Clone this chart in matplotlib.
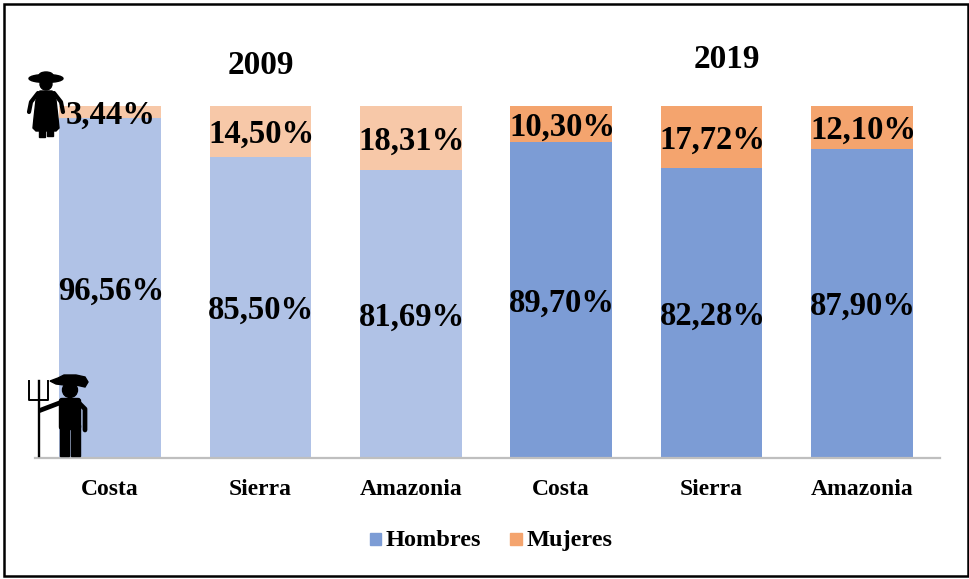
#!/usr/bin/env python

import matplotlib
matplotlib.use("Agg")
import matplotlib.pyplot as plt
from matplotlib.patches import Circle, Ellipse, FancyBboxPatch, Polygon, Rectangle

plt.rcParams["font.family"] = ["Liberation Serif"]
plt.rcParams["font.weight"] = "bold"

W, H = 970, 579

regiones = ["Costa", "Sierra", "Amazonia", "Costa", "Sierra", "Amazonia"]
hombres = [96.56, 85.50, 81.69, 89.70, 82.28, 87.90]
mujeres = [3.44, 14.50, 18.31, 10.30, 17.72, 12.10]
etiq_hombres = ["96,56%", "85,50%", "81,69%", "89,70%", "82,28%", "87,90%"]
etiq_mujeres = ["3,44%", "14,50%", "18,31%", "10,30%", "17,72%", "12,10%"]

col_hombres = ["#B0C2E6"] * 3 + ["#7C9CD5"] * 3
col_mujeres = ["#F7C8A8"] * 3 + ["#F4A46E"] * 3


def draw_woman(ov):
    ov.add_patch(Ellipse((46, 78.5), 34, 8, color="black", zorder=5))
    ov.add_patch(Ellipse((46, 75.5), 14, 7, color="black", zorder=5))
    ov.add_patch(Circle((46, 84), 6, color="black", zorder=5))
    ov.add_patch(Polygon([(40, 91), (52, 91), (56, 100), (58, 118), (59, 128),
                          (56, 131), (36, 131), (33, 128), (34, 118), (36, 100)],
                         color="black", zorder=5))
    ov.plot([38, 31, 29], [93, 102, 112], color="black", lw=3,
            solid_capstyle="round", zorder=5)
    ov.plot([54, 61, 63], [93, 102, 112], color="black", lw=3,
            solid_capstyle="round", zorder=5)
    ov.add_patch(Rectangle((39.5, 129), 5.5, 8, color="black", zorder=5))
    ov.add_patch(Rectangle((47.5, 129), 5.5, 7, color="black", zorder=5))


def draw_man(ov):
    # sombrero, cabeza y cuerpo
    ov.add_patch(Polygon([(50, 381), (58, 378), (64, 375), (76, 375), (85, 377),
                          (88, 382), (85, 387), (76, 385), (64, 385), (56, 384)],
                         color="black", zorder=5))
    ov.add_patch(Circle((70, 390), 7.5, color="black", zorder=5))
    ov.add_patch(FancyBboxPatch((62, 401), 16, 26, boxstyle="round,pad=2.5",
                                color="black", zorder=5))
    ov.add_patch(Rectangle((60, 425), 9.5, 31, color="black", zorder=5))
    ov.add_patch(Rectangle((71, 425), 9.5, 31, color="black", zorder=5))
    ov.plot([78, 85, 85], [402, 409, 430], color="black", lw=3.4,
            solid_capstyle="round", zorder=5)
    ov.plot([62, 41], [402, 410], color="black", lw=3.4, zorder=5)
    # horca
    ov.plot([39, 39], [381, 456], color="black", lw=1.7, zorder=5)
    ov.plot([29.5, 29.5, 48.5, 48.5], [381, 400, 400, 381], color="black", lw=1.4,
            zorder=5)


fig = plt.figure(figsize=(W / 100, H / 100), dpi=100, facecolor="white")

x0, x1, y_top, y_base = 35, 940, 106, 458
ax = fig.add_axes([x0 / W, 1 - y_base / H, (x1 - x0) / W, (y_base - y_top) / H])

pos = list(range(len(regiones)))
b1 = ax.bar(pos, hombres, width=0.675, color=col_hombres)
b2 = ax.bar(pos, mujeres, width=0.675, bottom=hombres, color=col_mujeres)
t1 = ax.bar_label(b1, labels=etiq_hombres, label_type="center", fontsize=23.5,
                  fontweight="bold", color="black")
t2 = ax.bar_label(b2, labels=etiq_mujeres, label_type="center", fontsize=23.5,
                  fontweight="bold", color="black")
for t in list(t1) + list(t2):
    t.xyann = (0.7, -2)

ax.set_xlim((x0 - 110) / 150.4, (x1 - 110) / 150.4)
ax.set_ylim(0, 100)
ax.set_yticks([])
ax.set_xticks(pos)
ax.set_xticklabels(regiones, fontsize=17, fontweight="bold")
ax.tick_params(axis="x", length=0, pad=15)
for s in ["top", "left", "right"]:
    ax.spines[s].set_visible(False)
ax.spines["bottom"].set_color("#BFBFBF")
ax.spines["bottom"].set_linewidth(1.6)

# capa en pixeles para iconos, marco, titulos y leyenda
ov = fig.add_axes([0, 0, 1, 1], facecolor="none")
ov.set_xlim(0, W)
ov.set_ylim(H, 0)
ov.axis("off")

ov.add_patch(Rectangle((4, 3.5), 964, 572.5, fill=False, ec="black", lw=1.8))
ov.text(261, 66, "2009", fontsize=24, ha="center", va="center")
ov.text(727, 60, "2019", fontsize=24, ha="center", va="center")

ov.add_patch(Rectangle((370, 533), 11, 12, color="#7C9CD5"))
ov.text(386, 546, "Hombres", fontsize=17.5, ha="left", va="baseline")
ov.add_patch(Rectangle((510, 533), 12, 12, color="#F4A46E"))
ov.text(527, 546, "Mujeres", fontsize=17.5, ha="left", va="baseline")

draw_woman(ov)
draw_man(ov)

fig.savefig("out.png", dpi=100)
